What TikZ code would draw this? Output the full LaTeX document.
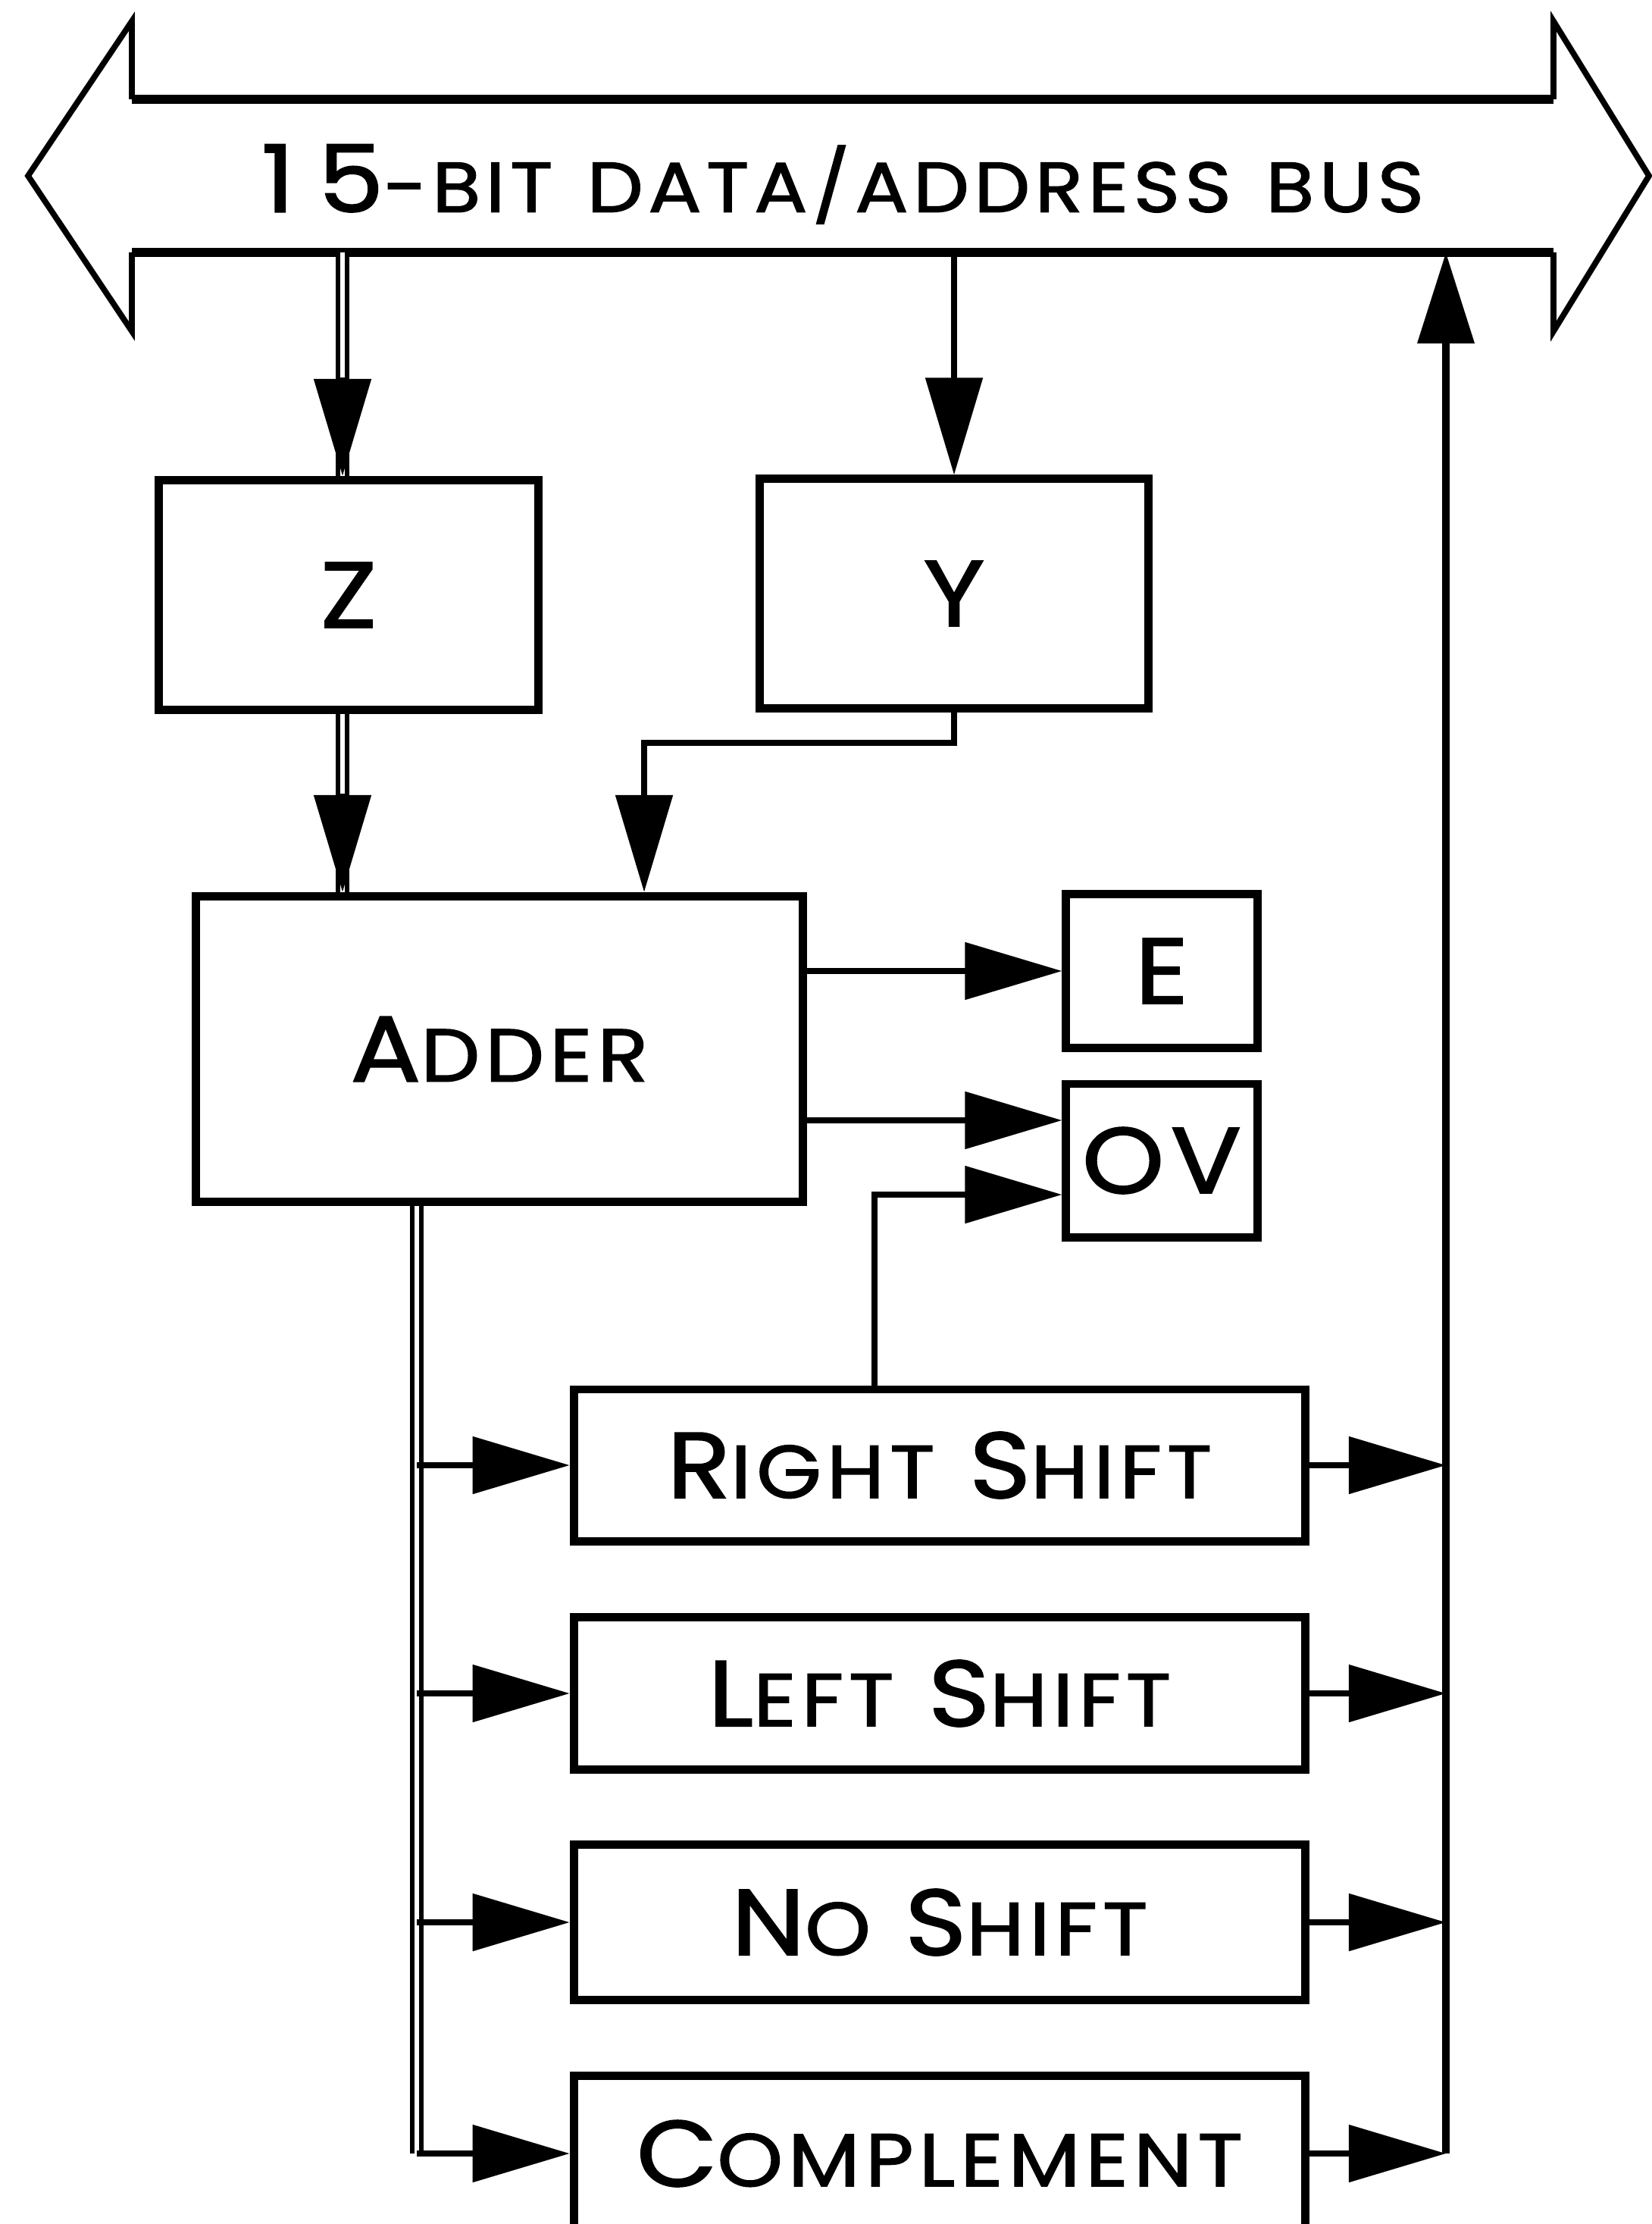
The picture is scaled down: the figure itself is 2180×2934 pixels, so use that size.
\documentclass[tikz,border=0pt]{standalone}
\usepackage{fontspec}
\setmainfont{Poppins}[FakeStretch=1.12, FakeBold=1.6, LetterSpace=7]
\usetikzlibrary{arrows.meta,calc}
\newcommand{\fsc}[2]{{\fontsize{35}{40}\selectfont #1}{\fontsize{28}{32}\selectfont #2}}
\newcommand{\bigletter}[1]{{\fontsize{35}{40}\selectfont #1}}
\newcommand{\wsp}{{\fontsize{35}{40}\selectfont\ }}
\begin{document}
\begin{tikzpicture}[x=0.01cm,y=-0.01cm,
  box/.style={draw, line width=3.1pt, inner sep=0pt, align=center},
  ln/.style={line width=2.4pt},
  arr/.style={ln, -{Triangle[length=12.8mm,width=7.4mm]}},
  dbl/.style={line width=1.8pt, double, double distance=1.5pt},
  busln/.style={line width=3.5pt},
  busout/.style={line width=2.2pt, line join=miter}]
\useasboundingbox (0,0) rectangle (2180,2934);
\clip (0,0) rectangle (2180,2934);
% bus
\coordinate (bTL) at (174,131);
\coordinate (bBL) at (174,333);
\coordinate (bTR) at (2050,131);
\coordinate (bBR) at (2050,333);
\draw[busout] (bTL) -- (174,28) -- (37,232) -- (174,437) -- (bBL);
\draw[busout] (bTR) -- (2050,28) -- (2176,232) -- (2050,437) -- (bBR);
\draw[busln] (bTL) -- (bTR);
\draw[busln] (bBL) -- (bBR);
\node (bus) at (1112,243) {{\fontsize{35}{40}\selectfont 1\hspace{0.25em}5}{\fontsize{26.5}{32}\selectfont -BIT\wsp DATA/ADDRESS\wsp BUS}};
% boxes
\node[box, minimum width=5.01cm, minimum height=3.03cm] (Z) at (460,785) {\bigletter{Z}};
\node[box, minimum width=5.12cm, minimum height=3.02cm] (Y) at (1259,783) {\bigletter{Y}};
\node[box, minimum width=8.0cm, minimum height=4.03cm] (Adder) at (659,1384) {\fsc{A}{DDER}};
\node[box, minimum width=2.52cm, minimum height=2.03cm] (E) at (1533,1281) {\bigletter{E}};
\node[box, minimum width=2.52cm, minimum height=2.02cm] (OV) at (1533,1531) {\bigletter{OV}};
\node[box, minimum width=9.65cm, minimum height=2.0cm] (RS) at (1240,1933) {\fsc{R}{IGHT}\wsp\fsc{S}{HIFT}};
\node[box, minimum width=9.65cm, minimum height=2.01cm] (LS) at (1240,2234) {\fsc{L}{EFT}\wsp\fsc{S}{HIFT}};
\node[box, minimum width=9.65cm, minimum height=2.05cm] (NS) at (1240,2536) {\fsc{N}{O}\wsp\fsc{S}{HIFT}};
\node[box, minimum width=9.65cm, minimum height=2.05cm] (CP) at (1240,2841) {\fsc{C}{OMPLEMENT}};
% bus -> Z (double line)
\coordinate (zx) at (452,333);
\draw[dbl] (zx) -- (zx |- Z.north);
\draw[arr] ([yshift=1.3cm]zx |- Z.north) -- (zx |- Z.north);
% bus -> Y
\draw[arr] (Y.north |- bBL) -- (Y.north);
% Z -> Adder
\draw[dbl] (zx |- Z.south) -- (zx |- Adder.north);
\draw[arr] ([yshift=1.3cm]zx |- Adder.north) -- (zx |- Adder.north);
% Y -> Adder
\coordinate (yb) at (850,980);
\draw[arr] (Y.south) |- (yb) -- (yb |- Adder.north);
% Adder -> E, OV
\draw[arr] (Adder.east |- E.west) -- (E.west);
\coordinate (ov1) at ([yshift=0.53cm]OV.west);
\draw[arr] (Adder.east |- ov1) -- (ov1);
% Right shift -> OV
\draw[arr] ([xshift=-0.86cm]RS.north) |- ([yshift=-0.45cm]OV.west);
% Adder -> shifts
\coordinate (ab) at ([xshift=-1.09cm]Adder.south);
\draw[dbl] (ab) -- (ab |- CP.west);
\foreach \n in {RS,LS,NS,CP}{
  \draw[arr] (ab |- \n.west) -- (\n.west);
}
% shifts -> bus
\coordinate (rv) at (1908,2841);
\foreach \n in {RS,LS,NS,CP}{
  \draw[arr] (\n.east) -- (\n.east -| rv);
}
\draw[line width=3pt, -{Triangle[length=12mm,width=7.3mm]}] (rv) -- (rv |- bBL);
\end{tikzpicture}
\end{document}
